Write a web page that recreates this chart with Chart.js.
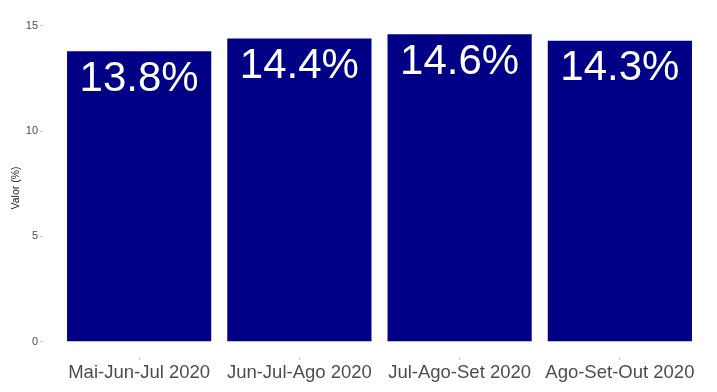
<!DOCTYPE html>
<html>
<head>
<meta charset="utf-8">
<script src="https://cdn.jsdelivr.net/npm/chart.js@4/dist/chart.umd.min.js"></script>
<style>
    html, body { margin: 0; padding: 0; background: #fff; }
    canvas { display: block; }
</style>
</head>
<body>
<canvas id="chart" width="717" height="392"></canvas>
<script>
// Chart data
const categories = ['Mai-Jun-Jul 2020', 'Jun-Jul-Ago 2020', 'Jul-Ago-Set 2020', 'Ago-Set-Out 2020'];
const values = [13.8, 14.4, 14.6, 14.3];
const yTicks = [0, 5, 10, 15];

const FONT = '"Liberation Sans", Arial, sans-serif';

// Value labels inside the top of each bar
const barLabels = {
    id: 'barLabels',
    afterDatasetsDraw(chart) {
        const ctx = chart.ctx;
        const meta = chart.getDatasetMeta(0);
        ctx.save();
        ctx.fillStyle = '#ffffff';
        ctx.font = '42px ' + FONT;
        ctx.textAlign = 'center';
        ctx.textBaseline = 'middle';
        meta.data.forEach((bar, i) => {
            ctx.fillText(values[i].toFixed(1) + '%', bar.x, bar.y + 28);
        });
        ctx.restore();
    }
};

const ctx = document.getElementById('chart');
new Chart(ctx, {
    type: 'bar',
    data: {
        datasets: [{
            data: values.map((v, i) => ({ x: i + 1, y: v })),
            backgroundColor: '#000086',
            borderWidth: 0,
            barPercentage: 0.9,
            categoryPercentage: 1
        }]
    },
    options: {
        responsive: false,
        animation: false,
        layout: { padding: { top: 19, right: 1, bottom: 0, left: 0 } },
        plugins: {
            legend: { display: false },
            tooltip: { enabled: false }
        },
        scales: {
            x: {
                type: 'linear',
                min: 0.4,
                max: 4.6,
                offset: false,
                afterBuildTicks: (scale) => {
                    scale.ticks = categories.map((c, i) => ({ value: i + 1 }));
                },
                afterFit: (scale) => { scale.height = 35; },
                grid: {
                    offset: false,
                    drawOnChartArea: false,
                    drawTicks: true,
                    tickLength: 3,
                    color: '#cccccc'
                },
                border: { display: false },
                ticks: {
                    padding: 2,
                    color: '#4d4d4d',
                    font: { family: FONT, size: 18.5 },
                    maxRotation: 0,
                    autoSkip: false,
                    callback: (value) => categories[value - 1] || ''
                }
            },
            y: {
                min: -0.73,
                max: 15.33,
                afterBuildTicks: (scale) => {
                    scale.ticks = yTicks.map(v => ({ value: v }));
                },
                afterFit: (scale) => { scale.width = 43; },
                grid: {
                    drawOnChartArea: false,
                    drawTicks: true,
                    tickLength: 3,
                    color: '#cccccc'
                },
                border: { display: false },
                ticks: {
                    padding: 2,
                    color: '#4d4d4d',
                    font: { family: FONT, size: 11 }
                },
                title: {
                    display: true,
                    text: 'Valor (%)',
                    color: '#1a1a1a',
                    font: { family: FONT, size: 10.5 },
                    padding: { top: 10, bottom: 0 }
                }
            }
        }
    },
    plugins: [barLabels]
});
</script>
</body>
</html>
